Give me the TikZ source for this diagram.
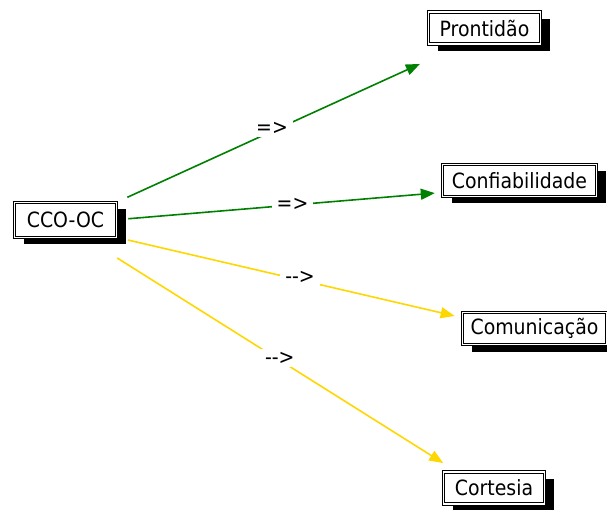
\documentclass[tikz,border=0pt]{standalone}
\usepackage{fontspec}
\setmainfont{DejaVu Sans Condensed}
\usepackage{tikz}
\usetikzlibrary{arrows.meta,shadows}
\definecolor{arrowgreen}{RGB}{0,128,0}
\definecolor{arrowyellow}{RGB}{255,215,0}
\tikzset{
  box/.style={draw=black, fill=white, line width=1pt, double=white, double distance=1.2pt,
    inner xsep=8pt, minimum height=32pt, align=center, font=\fontsize{21}{24}\selectfont,
    drop shadow={shadow xshift=9pt, shadow yshift=-7pt, fill=black, opacity=1}},
  rootbox/.style={box, minimum height=35pt},
  lbl/.style={fill=white, inner xsep=5pt, inner ysep=3pt, font=\fontsize{21}{24}\selectfont},
  greenarrow/.style={draw=arrowgreen, line width=1.6pt, -{Triangle[length=14pt,width=11pt]}},
  yellowarrow/.style={draw=arrowyellow, line width=1.6pt, -{Triangle[length=14pt,width=11pt]}},
}
\begin{document}
\begin{tikzpicture}[x=1pt, y=-1pt]
  \useasboundingbox (0,0) rectangle (607,510);

  \node[rootbox, minimum width=102pt] (cco) at (65.5,220) {CCO-OC};
  \node[box, minimum width=112pt] (pront) at (484.5,28) {Prontidão};
  \node[box, minimum width=154pt] (confi) at (519.5,180.5) {Confiabilidade};
  \node[box, minimum width=143pt] (comun) at (534.5,328.5) {Comunicação};
  \node[box, minimum width=101pt] (cort) at (494,488) {Cortesia};

  \draw[greenarrow, shorten <=68pt, shorten >=71pt] ([yshift=-5.5pt]cco.center) -- node[lbl, text=black, xshift=-3pt, yshift=2pt] {=>} ([yshift=-6.5pt]pront.center);
  \draw[greenarrow, shorten <=63pt, shorten >=85pt] ([yshift=-4pt]cco.center) -- node[lbl, text=black, yshift=1pt] {=>} ([yshift=-5.5pt]confi.center);
  \draw[yellowarrow, shorten <=64pt, shorten >=82pt] ([yshift=-5.5pt]cco.center) -- node[lbl, text=black, yshift=3pt] {-{}->} ([yshift=-6pt]comun.center);
  \draw[yellowarrow, shorten <=61pt, shorten >=60pt] ([yshift=-5.5pt]cco.center) -- node[lbl, text=black, yshift=2pt] {-{}->} ([yshift=-7pt]cort.center);
\end{tikzpicture}
\end{document}
